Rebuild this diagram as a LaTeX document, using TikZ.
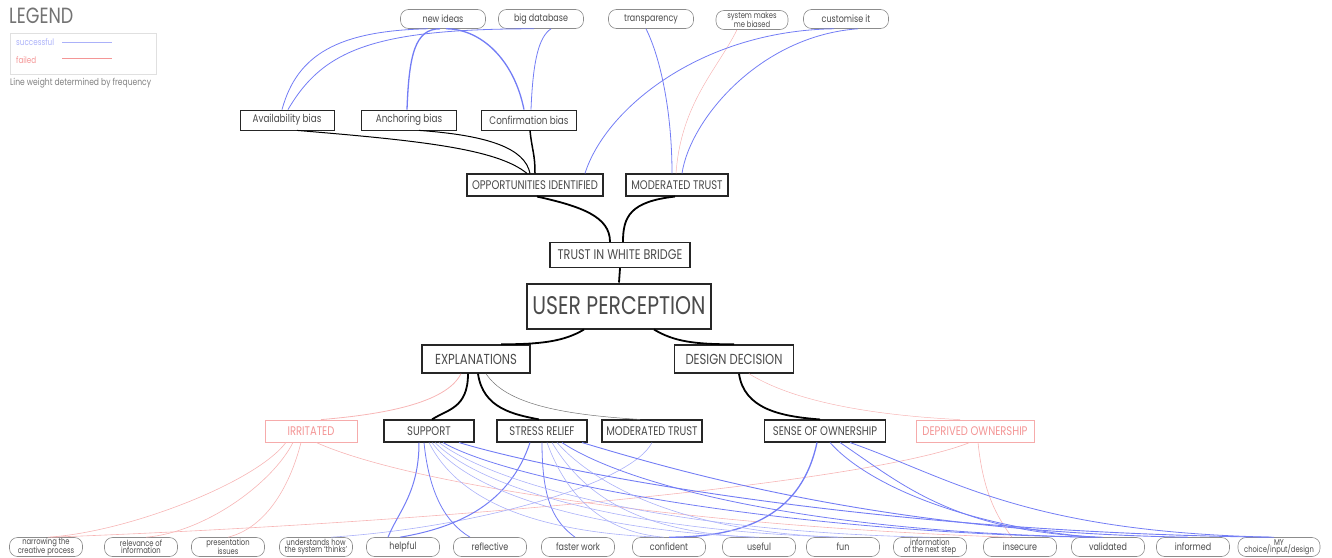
\documentclass[tikz,border=0pt]{standalone}
\usepackage{fontspec}
\setmainfont{Poppins}[FakeStretch=0.8]
\newcommand\myfs[1]{\fontsize{#1}{#1}\selectfont}
\definecolor{sblue}{RGB}{115,125,245}
\definecolor{fred}{RGB}{244,150,150}
\definecolor{txt}{RGB}{75,75,75}
\tikzset{
  box/.style={draw=black!85, line width=1.1pt, fill=white, inner sep=0pt, minimum height=20pt, text=txt, font=\myfs{12.5}},
  redbox/.style={box, draw=fred!80, text=fred, line width=0.8pt},
  pill/.style={draw=black!45, line width=0.6pt, rounded corners=8pt, fill=white, minimum height=19pt, minimum width=73pt, inner sep=0pt, align=center, text=txt, font=\myfs{10}},
  tpill/.style={pill, minimum width=85pt},
  bl/.style={draw=sblue, line width=0.8pt},
  blt/.style={draw=sblue!60, line width=0.6pt},
  blk/.style={draw=sblue, line width=1.3pt},
  rd/.style={draw=fred!70, line width=0.6pt},
  bk/.style={draw=black, line width=1pt},
  bkk/.style={draw=black, line width=1.8pt},
}
\begin{document}
\begin{tikzpicture}[x=1pt,y=-1pt]
\useasboundingbox (0,0) rectangle (1332,557);
% legend
\node[anchor=north west, inner sep=0pt, font=\myfs{22}, text=black!55] (legend) at (9,8) {LEGEND};
\node[draw=black!12, line width=0.6pt, minimum width=146pt, minimum height=41pt, anchor=north west, inner sep=0pt] (legbox) at (10,33) {};
\node[anchor=west, inner sep=0pt, font=\myfs{9}, text=sblue!60] (lsucc) at (16,42) {successful};
\node[anchor=west, inner sep=0pt, font=\myfs{9}, text=fred] (lfail) at (16,60) {failed};
\coordinate (ls1) at (62,42); \coordinate (ls2) at (112,42);
\coordinate (lf1) at (62,58); \coordinate (lf2) at (112,58);
\draw[draw=sblue!60, line width=0.7pt] (ls1) -- (ls2);
\draw[draw=fred, line width=0.7pt] (lf1) -- (lf2);
\node[anchor=west, inner sep=0pt, font=\myfs{9.5}, text=black!50] (lweight) at (10,83) {Line weight determined by frequency};

% top pills
\node[tpill] (newideas) at (443,19) {new ideas};
\node[tpill] (bigdb) at (541,19) {big database};
\node[tpill] (transp) at (651,19) {transparency};
\node[tpill, minimum width=72pt, font=\myfs{8.5}] (sysb) at (752,20) {system makes\\[-1pt]me biased};
\node[tpill] (custom) at (846,19) {customise it};

% bias boxes
\node[box, line width=0.8pt, minimum width=94pt, font=\myfs{11}] (avail) at (287,120) {Availability bias};
\node[box, line width=0.8pt, minimum width=95pt, font=\myfs{11}] (anchor) at (409,120) {Anchoring bias};
\node[box, line width=0.8pt, minimum width=95pt, font=\myfs{11}] (confirm) at (529,120) {Confirmation bias};

\node[box, minimum width=136pt, minimum height=22pt] (opp) at (535,185) {OPPORTUNITIES IDENTIFIED};
\node[box, minimum width=102pt, minimum height=22pt] (mtrust) at (677,185) {MODERATED TRUST};

\node[box, line width=1.4pt, minimum width=140pt, minimum height=25pt, font=\myfs{14}] (twb) at (620,255) {TRUST IN WHITE BRIDGE};
\node[box, line width=2pt, minimum width=184pt, minimum height=45pt, font=\myfs{25.5}] (up) at (619,306) {USER PERCEPTION};
\node[box, line width=1.4pt, minimum width=108pt, minimum height=28pt, font=\myfs{14.5}] (expl) at (476,359) {EXPLANATIONS};
\node[box, line width=1.4pt, minimum width=119pt, minimum height=28pt, font=\myfs{14.5}] (dd) at (734,359) {DESIGN DECISION};

\node[redbox, minimum width=92pt, minimum height=22pt] (irr) at (311,431) {IRRITATED};
\node[box, minimum width=90pt, minimum height=22pt] (support) at (429,431) {SUPPORT};
\node[box, minimum width=90pt, minimum height=22pt] (stress) at (542,431) {STRESS RELIEF};
\node[box, minimum width=100pt, minimum height=22pt] (mtrust2) at (652,431) {MODERATED TRUST};
\node[box, minimum width=121pt, minimum height=22pt] (soo) at (825,431) {SENSE OF OWNERSHIP};
\node[redbox, minimum width=118pt, minimum height=22pt] (depr) at (975,431) {DEPRIVED OWNERSHIP};

% top connectors
\draw[bl] ([xshift=-5pt]avail.north) .. controls +(15,-55) and +(-90,2) .. ([xshift=-15pt]newideas.south);
\draw[bl] ([xshift=1pt]avail.north) .. controls +(35,-60) and +(-160,0) .. ([xshift=-7pt]bigdb.south);
\draw[blk] ([xshift=-2pt]anchor.north) .. controls +(2,-55) and +(-25,0) .. ([xshift=-3pt]newideas.south);
\draw[blk] ([xshift=-5pt]confirm.north) .. controls +(-10,-50) and +(35,0) .. ([xshift=3pt]newideas.south);
\draw[bl] ([xshift=2pt]confirm.north) .. controls +(2,-50) and +(-12,8) .. ([xshift=10pt]bigdb.south);
\draw[bl] ([xshift=-5pt]transp.south) .. controls +(15,30) and +(0,-60) .. ([xshift=-5pt]mtrust.north);
\draw[rd, line width=0.5pt] ([xshift=-15pt]sysb.south) .. controls +(-20,40) and +(5,-70) .. ([xshift=-1pt]mtrust.north);
\draw[bl] ([xshift=-12pt]custom.south) .. controls +(-134,2) and +(20,-64) .. ([xshift=50pt]opp.north);
\draw[bl] ([xshift=12pt]custom.south) .. controls +(-98,7) and +(8,-54) .. ([xshift=5pt]mtrust.north);

% black structure
\draw[bk] ([xshift=10pt]avail.south) .. controls +(120,10) and +(-30,-25) .. ([xshift=-8pt]opp.north);
\draw[bk] ([xshift=10pt]anchor.south) .. controls +(70,5) and +(-5,-25) .. ([xshift=-5pt]opp.north);
\draw[bkk, line width=1.5pt] ([xshift=1pt]confirm.south) .. controls +(2,20) and +(0,-20) .. ([xshift=0pt]opp.north);
\draw[bkk] ([xshift=2pt]opp.south) .. controls +(45,10) and +(0,-25) .. ([xshift=-10pt]twb.north);
\draw[bkk] ([xshift=-2pt]mtrust.south) .. controls +(-45,5) and +(0,-25) .. ([xshift=3pt]twb.north);
\draw[bkk] (twb.south) -- (up.north);
\draw[bkk] ([xshift=-35pt]up.south) .. controls +(-20,12) and +(40,0) .. ([xshift=25pt]expl.north);
\draw[bkk] ([xshift=35pt]up.south) .. controls +(20,12) and +(-40,0) .. ([xshift=0pt]dd.north);

\draw[rd, line width=0.8pt] ([xshift=-15pt]expl.south) .. controls +(-15,30) and +(60,-5) .. ([xshift=10pt]irr.north);
\draw[bkk] ([xshift=-8pt]expl.south) .. controls +(0,35) and +(15,-10) .. ([xshift=3pt]support.north);
\draw[bkk] ([xshift=2pt]expl.south) .. controls +(5,35) and +(-25,-5) .. ([xshift=-3pt]stress.north);
\draw[draw=black!55, line width=0.5pt] ([xshift=10pt]expl.south) .. controls +(20,30) and +(-80,-5) .. ([xshift=-12pt]mtrust2.north);
\draw[bkk] ([xshift=5pt]dd.south) .. controls +(5,35) and +(-40,-3) .. ([xshift=-5pt]soo.north);
\draw[rd, line width=0.5pt] ([xshift=15pt]dd.south) .. controls +(40,25) and +(-100,-5) .. ([xshift=-15pt]depr.north);

% bottom pills
\node[pill, font=\myfs{8.5}] (narrow) at (46,547) {narrowing the\\[-1pt]creative process};
\node[pill, font=\myfs{8.5}] (relev) at (141,547) {relevance of\\[-1pt]information};
\node[pill, font=\myfs{8.5}] (present) at (228,547) {presentation\\[-1pt]issues};
\node[pill, font=\myfs{8.5}] (underst) at (316,547) {understands how\\[-1pt]the system `thinks'};
\node[pill] (helpful) at (403,547) {helpful};
\node[pill] (reflect) at (490,547) {reflective};
\node[pill] (faster) at (578,547) {faster work};
\node[pill] (confid) at (669,547) {confident};
\node[pill] (useful) at (759,547) {useful};
\node[pill] (fun) at (843,547) {fun};
\node[pill, font=\myfs{8.5}] (info) at (930,547) {information\\[-1pt]of the next step};
\node[pill] (insec) at (1020,547) {insecure};
\node[pill] (valid) at (1108,547) {validated};
\node[pill] (inform) at (1193,547) {informed};
\node[pill, minimum width=82pt, font=\myfs{8.5}] (mychoice) at (1279,547) {MY\\[-1pt]choice/input/design};

% red bottom
\draw[rd] ([xshift=-25pt]irr.south) .. controls +(-30,40) and +(80,-5) .. ([xshift=2pt]narrow.north);
\draw[rd] ([xshift=-18pt]irr.south) .. controls +(-20,40) and +(60,-5) .. ([xshift=5pt]relev.north);
\draw[rd] ([xshift=-10pt]irr.south) .. controls +(-10,40) and +(40,-10) .. ([xshift=0pt]present.north);
\draw[rd] ([xshift=5pt]irr.south) .. controls +(100,45) and +(-300,-10) .. ([xshift=-10pt]insec.north);
\draw[rd] ([xshift=-5pt]depr.south) .. controls +(-100,40) and +(400,-15) .. ([xshift=5pt]narrow.north);
\draw[rd] ([xshift=3pt]depr.south) .. controls +(5,50) and +(-15,-20) .. ([xshift=-8pt]insec.north);

% blue bottom
\draw[blt] (mtrust2.south) .. controls +(-20,40) and +(150,-10) .. ([xshift=15pt]underst.north);
\draw[bl, line width=1pt] ([xshift=-10pt]support.south) .. controls +(0,50) and +(10,-25) .. ([xshift=-15pt]helpful.north);
\draw[bl] ([xshift=-5pt]support.south) .. controls +(5,50) and +(-25,-15) .. ([xshift=-20pt]reflect.north);
\draw[bl, line width=1pt] ([xshift=-12pt]stress.south) .. controls +(-20,60) and +(60,-10) .. ([xshift=-3pt]helpful.north);
\draw[bl] ([xshift=0pt]stress.south) .. controls +(0,60) and +(-20,-15) .. ([xshift=-3pt]faster.north);
\draw[blk] ([xshift=-8pt]soo.south) .. controls +(-15,70) and +(80,0) .. ([xshift=0pt]confid.north);

% fans from SUPPORT
\draw[blt] ([xshift=0pt]support.south) .. controls +(30,60) and +(-120,-5) .. ([xshift=-10pt]confid.north);
\draw[blt] ([xshift=3pt]support.south) .. controls +(40,55) and +(-150,-5) .. (useful.north);
\draw[blt] ([xshift=6pt]support.south) .. controls +(50,50) and +(-200,-5) .. (fun.north);
\draw[blt] ([xshift=10pt]support.south) .. controls +(60,45) and +(-250,-5) .. (info.north);
\draw[bl] ([xshift=14pt]support.south) .. controls +(70,40) and +(-300,-5) .. ([xshift=-20pt]valid.north);
\draw[bl, line width=0.9pt] ([xshift=30pt]support.south) .. controls +(100,30) and +(-400,-5) .. ([xshift=-10pt]mychoice.north);
% fans from STRESS RELIEF
\draw[blt] ([xshift=5pt]stress.south) .. controls +(20,55) and +(-60,-5) .. ([xshift=-5pt]confid.north);
\draw[blt] ([xshift=10pt]stress.south) .. controls +(30,50) and +(-120,-5) .. ([xshift=-5pt]useful.north);
\draw[blt] ([xshift=15pt]stress.south) .. controls +(40,45) and +(-150,-5) .. ([xshift=-5pt]fun.north);
\draw[bl] ([xshift=20pt]stress.south) .. controls +(60,40) and +(-300,-5) .. ([xshift=-10pt]valid.north);
\draw[bl, line width=0.9pt] ([xshift=40pt]stress.south) .. controls +(100,30) and +(-300,-5) .. ([xshift=-5pt]inform.north);
% fans from SENSE OF OWNERSHIP
\draw[bl] ([xshift=5pt]soo.south) .. controls +(40,45) and +(-120,-10) .. ([xshift=-15pt]valid.north);
\draw[bl] ([xshift=15pt]soo.south) .. controls +(60,40) and +(-150,-5) .. ([xshift=-5pt]valid.north);
\draw[bl] ([xshift=25pt]soo.south) .. controls +(100,35) and +(-250,-5) .. ([xshift=-5pt]mychoice.north);
\end{tikzpicture}
\end{document}
